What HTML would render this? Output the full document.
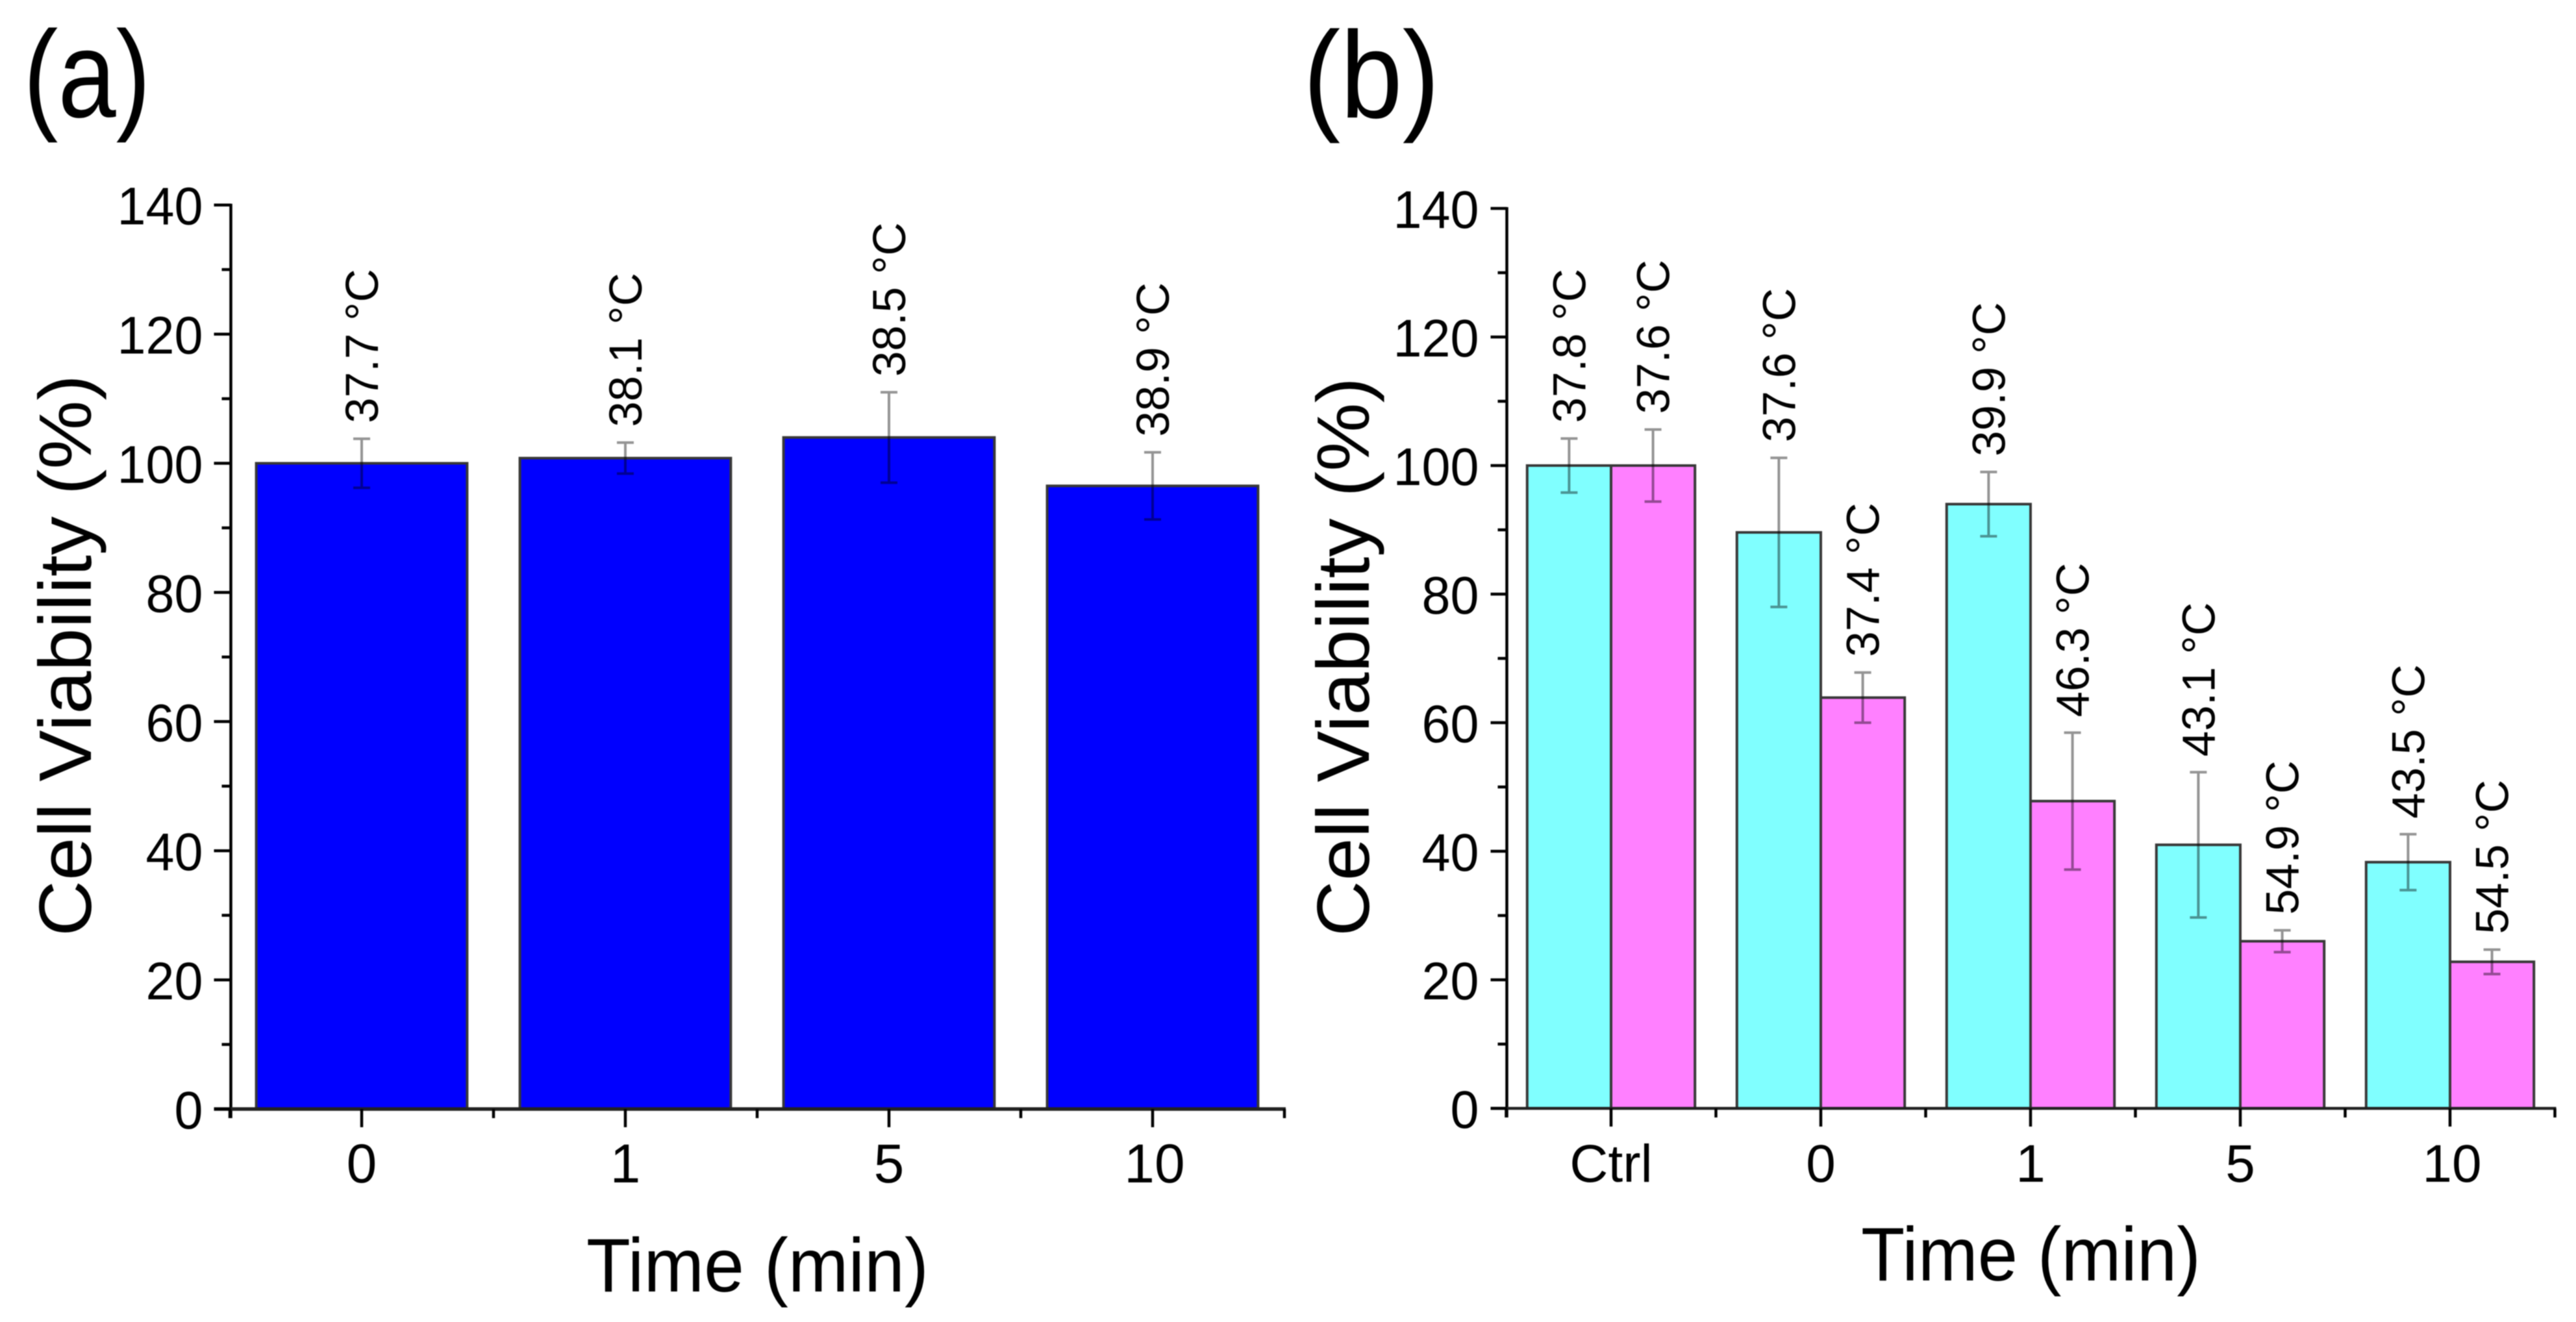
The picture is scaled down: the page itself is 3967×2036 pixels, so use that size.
<!DOCTYPE html>
<html lang="en">
<head>
<meta charset="utf-8">
<title>Cell viability bar charts</title>
<style>
html,body{margin:0;padding:0;background:#fff;}
svg{display:block;filter:blur(0.7px);}
text{font-family:"Liberation Sans",Arial,sans-serif;fill:#000;}
</style>
</head>
<body>
<svg id="figure" xmlns="http://www.w3.org/2000/svg" width="3967" height="2036" viewBox="0 0 3967 2036">
  <rect x="0" y="0" width="3967" height="2036" fill="#ffffff"/>
  <text x="36" y="180" font-size="190" textLength="196" lengthAdjust="spacingAndGlyphs">(a)</text>
  <text x="2007" y="181" font-size="190" textLength="210" lengthAdjust="spacingAndGlyphs">(b)</text>
  <text transform="translate(140,1442) rotate(-90)" font-size="114" textLength="865" lengthAdjust="spacingAndGlyphs">Cell Viability (%)</text>
  <text transform="translate(2108,1442) rotate(-90)" font-size="114" textLength="861" lengthAdjust="spacingAndGlyphs">Cell Viability (%)</text>
  <text x="903" y="1989" font-size="117" textLength="527" lengthAdjust="spacingAndGlyphs">Time (min)</text>
  <text x="2866" y="1972" font-size="117" textLength="523" lengthAdjust="spacingAndGlyphs">Time (min)</text>
  <g id="panel-a"></g>
  <g id="panel-b"></g>
</svg>
<script>
const yTicks = [0, 20, 40, 60, 80, 100, 120, 140];
const yMinorTicks = [10, 30, 50, 70, 90, 110, 130];

const categoriesA = ['0', '1', '5', '10'];
const viabilityA = [100, 100.8, 104, 96.5];
const errorA = [3.8, 2.4, 7, 5.2];
const temperatureA = ['37.7', '38.1', '38.5', '38.9'];

const categoriesB = ['Ctrl', '0', '1', '5', '10'];
const viabilityB1 = [100, 89.6, 94, 41, 38.3];
const errorB1 = [4.2, 11.6, 5, 11.3, 4.35];
const temperatureB1 = ['37.8', '37.6', '39.9', '43.1', '43.5'];
const viabilityB2 = [100, 63.9, 47.8, 26, 22.8];
const errorB2 = [5.6, 3.9, 10.65, 1.7, 1.9];
const temperatureB2 = ['37.6', '37.4', '46.3', '54.9', '54.5'];

const SVG_NS = 'http://www.w3.org/2000/svg';
function make(tag, attrs, parent) {
  const node = document.createElementNS(SVG_NS, tag);
  for (const key in attrs) node.setAttribute(key, attrs[key]);
  parent.appendChild(node);
  return node;
}

function drawAxes(group, p, categories) {
  const yAxis = make('line', {x1: p.axisX, x2: p.axisX, y1: p.y(140) - 2, y2: p.y(0) + 14, stroke: '#000', 'stroke-width': 4.5}, group);
  
  
  const xEnd = p.x(categories.length - 0.5);
  const xAxis = make('line', {x1: p.axisX - p.majorLen, x2: xEnd + 2, y1: p.y(0), y2: p.y(0), stroke: '#222', 'stroke-width': p.xAxisWidth}, group);
  
  

  yTicks.forEach(function (v) {
    const tick = make('line', {x1: p.axisX - p.majorLen, x2: p.axisX, y1: p.y(v), y2: p.y(v), stroke: '#000', 'stroke-width': 4.5}, group);
    
    
    const text = String(v);
    const label = make('text', {x: p.axisX - 43, y: p.y(v) + 30, 'font-size': 82, 'text-anchor': 'end', textLength: text.length * 44, lengthAdjust: 'spacingAndGlyphs'}, group);
    
    
    label.textContent = text;
  });
  yMinorTicks.forEach(function (v) {
    const tick = make('line', {x1: p.axisX - 14, x2: p.axisX, y1: p.y(v), y2: p.y(v), stroke: '#000', 'stroke-width': 4.5}, group);
    
    
  });
  categories.forEach(function (c, i) {
    const tick = make('line', {x1: p.x(i), x2: p.x(i), y1: p.y(0), y2: p.y(0) + 28, stroke: '#000', 'stroke-width': 4.5}, group);
    
    
    const label = make('text', {x: p.x(i) + (c === '10' ? 3 : 0), y: p.labelY, 'font-size': p.xFont, 'text-anchor': 'middle'}, group);
    
    
    label.textContent = c;
  });
  for (let i = 0; i <= categories.length; i++) {
    const pos = p.x(i - 0.5);
    const tick = make('line', {x1: pos, x2: pos, y1: p.y(0), y2: p.y(0) + 14, stroke: '#000', 'stroke-width': 4.5}, group);
    
    
  }
}

function drawSeries(group, p, values, errors, temps, color, left, width, seriesName) {
  values.forEach(function (v, i) {
    const bx = left(i);
    const bar = make('rect', {x: bx, y: p.y(v), width: width, height: p.y(0) - p.y(v), fill: color, stroke: '#383838', 'stroke-width': 4}, group);
    
    
  });
  values.forEach(function (v, i) {
    const cx = left(i) + width / 2;
    const top = p.y(v + errors[i]);
    const bottom = p.y(v - errors[i]);
    const err = make('path', {
      d: 'M' + (cx - 13) + ' ' + top + 'H' + (cx + 13) + 'M' + cx + ' ' + top + 'V' + bottom + 'M' + (cx - 13) + ' ' + bottom + 'H' + (cx + 13),
      fill: 'none', stroke: 'rgba(0,0,0,0.42)', 'stroke-width': 4
    }, group);
    
    
    const label = make('text', {transform: 'translate(' + (cx + 25) + ',' + (top - 24) + ') rotate(-90)', 'font-size': 71}, group);
    
    
    label.textContent = temps[i] + ' \u00B0C';
  });
}

const panelA = {
  x: function (i) { return 557 + 406 * i; },
  y: function (v) { return 1708 - 9.945 * v; },
  axisX: 355.5, majorLen: 26, labelY: 1821, xFont: 84, xAxisWidth: 5.5
};
const panelB = {
  x: function (i) { return 2481 + 323 * i; },
  y: function (v) { return 1707 - 9.9 * v; },
  axisX: 2320.5, majorLen: 25, labelY: 1820, xFont: 82, xAxisWidth: 4.5
};

const groupA = document.getElementById('panel-a');
const groupB = document.getElementById('panel-b');

const widthA = 406 * 0.8;
drawSeries(groupA, panelA, viabilityA, errorA, temperatureA, '#0000ff', function (i) { return panelA.x(i) - widthA / 2; }, widthA, 'viability');
drawAxes(groupA, panelA, categoriesA);

const widthB = 323 * 0.4;
drawSeries(groupB, panelB, viabilityB1, errorB1, temperatureB1, '#80ffff', function (i) { return panelB.x(i) - widthB; }, widthB, 'series-cyan');
drawSeries(groupB, panelB, viabilityB2, errorB2, temperatureB2, '#ff80ff', function (i) { return panelB.x(i); }, widthB, 'series-magenta');
drawAxes(groupB, panelB, categoriesB);
</script>
</body>
</html>
